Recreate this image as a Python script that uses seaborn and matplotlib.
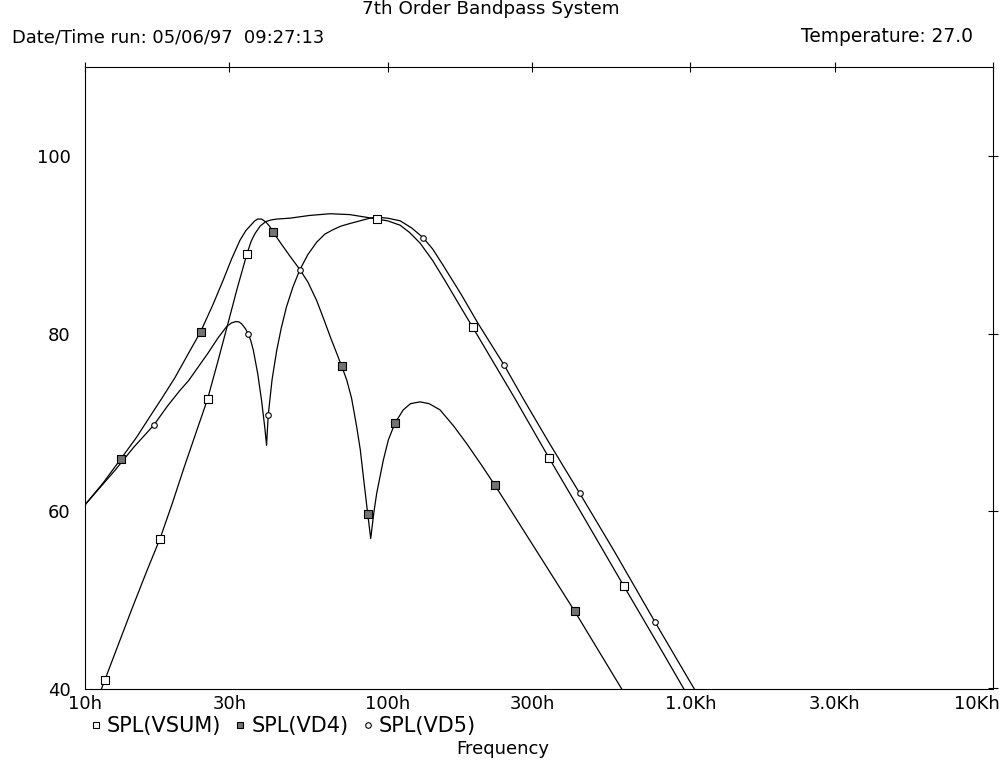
import matplotlib
matplotlib.use("Agg")
import matplotlib.pyplot as plt
import seaborn as sns
import pandas as pd
from matplotlib.lines import Line2D
from matplotlib.ticker import NullLocator, FixedLocator, FixedFormatter
from matplotlib.transforms import ScaledTranslation

# ---------------- data ----------------
x_ticks = [10, 30, 100, 300, 1000, 3000, 10000]
x_tick_labels = ["10h", "30h", "100h", "300h", "1.0Kh", "3.0Kh", "10Kh"]
y_ticks = [40, 60, 80, 100]
y_tick_labels = ["40", "60", "80", "100"]

vsum_f = [11.0, 11.64, 12.9, 14.3, 15.9, 17.7, 19.4, 21.2, 23.2, 25.4, 27.4, 29.6,
          31.9, 34.3, 35.4, 36.5, 37.9, 39.5, 41.2, 43.0, 47.6, 55.0, 64.5, 75.0,
          85.0, 92.0, 100.0, 110.0, 118.0, 127.9, 141.0, 156.3, 172.0, 191.0, 225.0,
          263.0, 300.0, 341.0, 450.0, 604.0, 800.0, 950.0, 1000.0]
vsum_db = [38.8, 41.0, 45.0, 49.0, 53.0, 56.9, 60.8, 64.8, 68.7, 72.6, 76.7, 81.0,
           85.2, 89.0, 90.4, 91.3, 92.1, 92.6, 92.8, 92.9, 93.0, 93.3, 93.5, 93.4,
           93.1, 92.9, 92.7, 92.2, 91.4, 90.2, 88.2, 85.7, 83.3, 80.7, 76.6,
           72.7, 69.3, 66.0, 59.0, 51.5, 44.4, 40.0, 38.7]

vd4_f = [10.0, 11.5, 13.15, 14.8, 16.5, 18.1, 19.8, 22.0, 24.1, 26.5, 28.6, 30.5,
         32.5, 34.0, 35.5, 36.4, 37.2, 38.3, 39.5, 40.7, 41.9, 44.5, 47.6, 51.3,
         54.5, 58.3, 62.0, 65.0, 68.0, 70.5, 73.2, 76.0, 79.0, 81.2, 83.1, 85.9,
         87.9, 90.0, 92.0, 96.7, 100.5, 105.7, 112.6, 119.0, 127.9, 137.0, 148.9,
         165.0, 182.4, 203.0, 226.2, 300.0, 415.0, 592.0, 620.0]
vd4_db = [60.7, 63.2, 65.9, 68.3, 70.8, 72.9, 75.0, 77.8, 80.2, 83.3, 86.0, 88.4,
          90.5, 91.6, 92.3, 92.7, 92.9, 92.9, 92.6, 92.1, 91.4, 90.1, 88.7, 87.2,
          85.8, 83.7, 81.3, 79.4, 77.7, 76.3, 74.8, 72.7, 69.5, 66.9, 63.9, 59.7,
          56.9, 59.8, 62.0, 65.7, 68.0, 69.9, 71.4, 72.1, 72.3, 72.1, 71.4,
          69.6, 67.6, 65.3, 62.9, 56.3, 48.7, 40.0, 38.9]

vd5_f = [10.0, 12.5, 14.5, 16.9, 18.7, 20.6, 22.0, 25.5, 27.5, 29.4, 30.5, 31.5,
         32.3, 32.9, 33.8, 34.6, 35.3, 36.0, 37.2, 38.3, 39.3, 39.8, 40.3, 41.5,
         43.0, 44.5, 46.3, 48.7, 51.3, 54.5, 58.3, 62.0, 66.0, 70.0, 75.1, 87.4,
         92.0, 100.0, 110.0, 120.0, 131.0, 141.0, 152.4, 175.0, 199.2, 242.0, 280.0,
         340.0, 431.0, 560.0, 764.0, 1000.0, 1050.0]
vd5_db = [60.7, 64.5, 67.2, 69.7, 71.8, 73.6, 74.7, 77.8, 79.5, 80.8, 81.2, 81.35,
          81.3, 81.1, 80.6, 80.0, 79.2, 78.1, 75.5, 72.5, 69.3, 67.4, 70.8, 74.8,
          78.1, 80.6, 83.0, 85.3, 87.2, 88.9, 90.3, 91.2, 91.7, 92.1, 92.4, 93.0,
          93.1, 93.0, 92.7, 91.9, 90.8, 89.5, 87.7, 84.4, 81.1, 76.5, 72.7,
          67.8, 62.0, 55.5, 47.5, 40.7, 39.5]

vsum_mk_f = [11.64, 17.7, 25.4, 34.3, 92.0, 191.0, 341.0, 604.0]
vsum_mk_db = [41.0, 56.9, 72.6, 89.0, 92.9, 80.7, 66.0, 51.5]
vd4_mk_f = [13.15, 24.1, 41.9, 70.5, 85.9, 105.7, 226.2, 415.0]
vd4_mk_db = [65.9, 80.2, 91.4, 76.3, 59.7, 69.9, 62.9, 48.7]
vd5_mk_f = [16.9, 34.6, 40.3, 51.3, 131.0, 242.0, 431.0, 764.0]
vd5_mk_db = [69.7, 80.0, 70.8, 87.2, 90.8, 76.5, 62.0, 47.5]

trace_names = ["SPL(VSUM)", "SPL(VD4)", "SPL(VD5)"]

# ---------------- styling ----------------
sns.set_theme(style="white")
plt.rcParams['font.family'] = ['DejaVu Sans']
plt.rcParams['axes.linewidth'] = 0.8
plt.rcParams['text.color'] = 'black'
plt.rcParams['xtick.color'] = 'black'
plt.rcParams['ytick.color'] = 'black'

fig = plt.figure(figsize=(10, 7.6), dpi=100)
ax = fig.add_axes([0.085, 1 - 688.5 / 760, 0.908, (688.5 - 67.3) / 760])

lines = pd.concat([
    pd.DataFrame({"freq": vsum_f, "spl": vsum_db, "trace": trace_names[0]}),
    pd.DataFrame({"freq": vd4_f, "spl": vd4_db, "trace": trace_names[1]}),
    pd.DataFrame({"freq": vd5_f, "spl": vd5_db, "trace": trace_names[2]}),
])
for name in trace_names:
    sub = lines[lines["trace"] == name]
    sns.lineplot(data=sub, x="freq", y="spl", color="black", lw=0.9,
                 estimator=None, sort=False, ax=ax, legend=False)

marker_sets = [
    (vsum_mk_f, vsum_mk_db, "s", "white", 26),
    (vd4_mk_f, vd4_mk_db, "s", "0.45", 26),
    (vd5_mk_f, vd5_mk_db, "o", "white", 16),
]
for mf, mdb, mk, fc, sz in marker_sets:
    sns.scatterplot(x=mf, y=mdb, marker=mk, s=sz, facecolor=fc,
                    edgecolor="black", linewidth=0.8, ax=ax, zorder=5, legend=False)

ax.set_xscale("log")
ax.set_xlim(10, 10000)
ax.set_ylim(40, 110)
ax.xaxis.set_major_locator(FixedLocator(x_ticks))
ax.xaxis.set_major_formatter(FixedFormatter(x_tick_labels))
ax.xaxis.set_minor_locator(NullLocator())
ax.yaxis.set_major_locator(FixedLocator(y_ticks))
ax.yaxis.set_major_formatter(FixedFormatter(y_tick_labels))
ax.yaxis.set_minor_locator(NullLocator())
ax.set_xlabel("")
ax.set_ylabel("")
for sp in ax.spines.values():
    sp.set_color("black")
    sp.set_linewidth(0.8)
ax.tick_params(axis="both", which="major", direction="inout", length=7, width=0.8,
               top=True, right=True, labelsize=13, colors="black")
ax.tick_params(axis="x", pad=1.5)
ax.tick_params(axis="y", pad=7)

# shift the last x label so it stays inside the figure
lbls = ax.get_xticklabels()
lbls[-1].set_horizontalalignment("right")
lbls[-1].set_transform(lbls[-1].get_transform() + ScaledTranslation(7 / 100, 0, fig.dpi_scale_trans))

# header texts
fig.text(0.491, 1 - 9 / 760, "7th Order Bandpass System", ha="center", va="center", fontsize=13.2)
fig.text(0.012, 1 - 37 / 760, "Date/Time run: 05/06/97  09:27:13", ha="left", va="center", fontsize=12.9)
fig.text(0.973, 1 - 37 / 760, "Temperature: 27.0", ha="right", va="center", fontsize=13.4)

# legend below the axis
handles = [
    Line2D([], [], ls="none", marker="s", mfc="white", mec="black", ms=5, mew=0.8),
    Line2D([], [], ls="none", marker="s", mfc="0.45", mec="black", ms=5, mew=0.8),
    Line2D([], [], ls="none", marker="o", mfc="white", mec="black", ms=4, mew=0.8),
]
fig.legend(handles, trace_names, loc="center left", bbox_to_anchor=(0.091, 1 - 726 / 760),
           ncol=3, frameon=False, fontsize=15, handlelength=0.45, handletextpad=0.3,
           columnspacing=0.7, borderaxespad=0, borderpad=0, labelcolor="black")

fig.text(0.503, 1 - 749 / 760, "Frequency", ha="center", va="center", fontsize=13)

fig.savefig("out.png", dpi=100)
